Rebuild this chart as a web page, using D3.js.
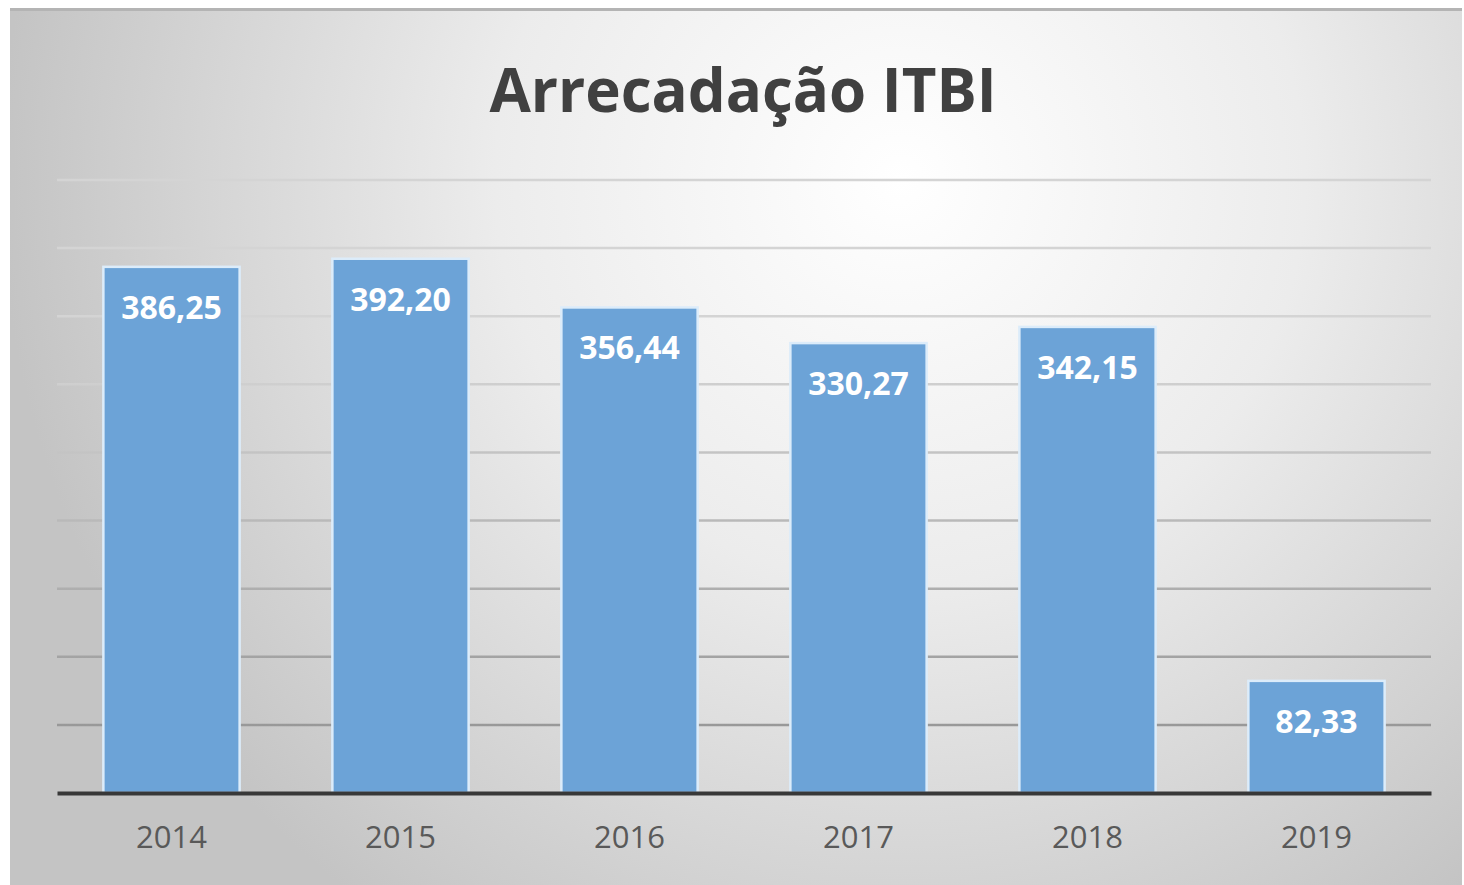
<!DOCTYPE html>
<html>
<head>
<meta charset="utf-8">
<script src="https://cdn.jsdelivr.net/npm/d3@7"></script>
<style>
  body { margin: 0; background: #fff; }
  svg { display: block; }
</style>
</head>
<body>
<svg id="chart" width="1464" height="885"></svg>
<script>
const years = ["2014", "2015", "2016", "2017", "2018", "2019"];
const values = [386.25, 392.20, 356.44, 330.27, 342.15, 82.33];
const labels = ["386,25", "392,20", "356,44", "330,27", "342,15", "82,33"];
const gridTicks = [50, 100, 150, 200, 250, 300, 350, 400, 450];

const svg = d3.select("#chart"),
    margin = {top: 180, right: 33, bottom: 92, left: 57},
    width = +svg.attr("width") - margin.left - margin.right,
    height = +svg.attr("height") - margin.top - margin.bottom;

const defs = svg.append("defs");

const bg = defs.append("radialGradient")
    .attr("id", "bg")
    .attr("gradientUnits", "userSpaceOnUse")
    .attr("cx", 900).attr("cy", 180).attr("r", 900);
bg.append("stop").attr("offset", "0%").attr("stop-color", "#ffffff");
bg.append("stop").attr("offset", "45%").attr("stop-color", "#ececec");
bg.append("stop").attr("offset", "100%").attr("stop-color", "#c4c4c4");

const gridGrad = defs.append("linearGradient")
    .attr("id", "gridGrad")
    .attr("gradientUnits", "userSpaceOnUse")
    .attr("x1", 0).attr("y1", 170).attr("x2", 0).attr("y2", 600);
gridGrad.append("stop").attr("offset", "0%").attr("stop-color", "#d4d4d4");
gridGrad.append("stop").attr("offset", "100%").attr("stop-color", "#909090");

// chart frame
svg.append("rect")
    .attr("x", 10).attr("y", 8)
    .attr("width", 1452).attr("height", 890)
    .attr("fill", "url(#bg)");
svg.append("line")
    .attr("x1", 10).attr("x2", 1462).attr("y1", 9.5).attr("y2", 9.5)
    .attr("stroke", "#b4b4b4").attr("stroke-width", 3);

svg.append("text")
    .attr("x", 743).attr("y", 112)
    .attr("text-anchor", "middle")
    .attr("font-family", "Open Sans, sans-serif")
    .attr("font-weight", 700)
    .attr("font-size", 60)
    .attr("fill", "#404040")
    .text("Arrecadação ITBI");

const x = d3.scaleBand()
    .domain(years)
    .range([0, width])
    .paddingInner(0.405)
    .paddingOuter(0.2025);

const y = d3.scaleLinear()
    .domain([0, 450])
    .range([height, 0]);

const g = svg.append("g").attr("transform", `translate(${margin.left},${margin.top})`);

g.append("g")
    .selectAll("line")
    .data(gridTicks)
    .enter().append("line")
    .attr("x1", 0).attr("x2", width)
    .attr("y1", d => y(d)).attr("y2", d => y(d))
    .attr("stroke", "url(#gridGrad)")
    .attr("stroke-width", 2.5);

g.append("g")
    .selectAll("rect")
    .data(values)
    .enter().append("rect")
    .attr("x", (d, i) => x(years[i]))
    .attr("y", d => y(d))
    .attr("width", x.bandwidth())
    .attr("height", d => height - y(d))
    .attr("fill", "#6ca3d7")
    .attr("stroke", "#dcecfa")
    .attr("stroke-width", 2.5);

g.append("g")
    .selectAll("text")
    .data(values)
    .enter().append("text")
    .attr("x", (d, i) => x(years[i]) + x.bandwidth() / 2)
    .attr("y", d => y(d) + 52)
    .attr("text-anchor", "middle")
    .attr("font-family", "Open Sans, sans-serif")
    .attr("font-weight", 700)
    .attr("font-size", 32)
    .attr("fill", "#ffffff")
    .text((d, i) => labels[i]);

const xAxis = d3.axisBottom(x).tickSize(0).tickPadding(33);

const ax = g.append("g")
    .attr("transform", `translate(0,${height})`)
    .call(xAxis);
ax.select(".domain")
    .attr("stroke", "#383838")
    .attr("stroke-width", 4);
ax.selectAll("text")
    .attr("font-family", "Open Sans, sans-serif")
    .attr("font-size", 31)
    .attr("fill", "#595959");
</script>
</body>
</html>
